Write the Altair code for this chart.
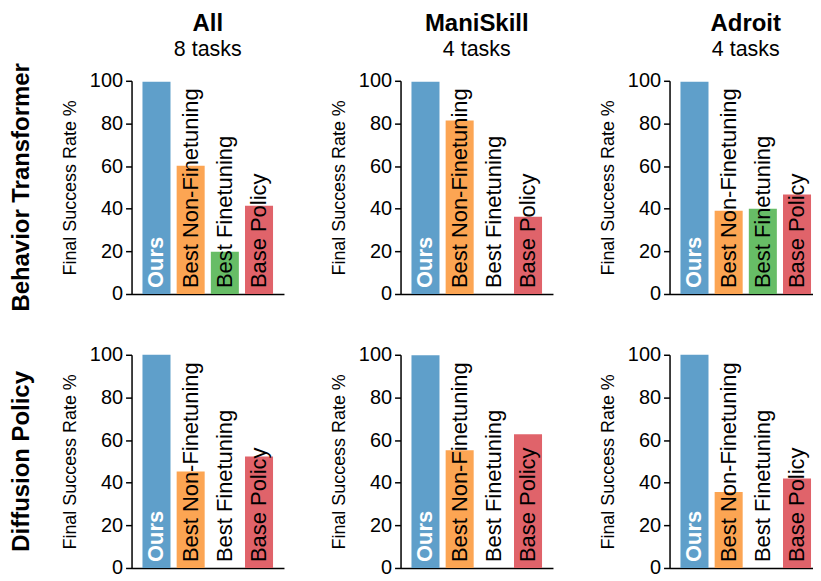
import altair as alt
import pandas as pd

methods = ["Ours", "Best Non-Finetuning", "Best Finetuning", "Base Policy"]
colors = ["#5f9fca", "#fca553", "#67bd66", "#e0636a"]
policies = ["Behavior Transformer", "Diffusion Policy"]
suites = ["All", "ManiSkill", "Adroit"]
suite_tasks = ["8 tasks", "4 tasks", "4 tasks"]

# values[policy][suite] -> [Ours, Best Non-Finetuning, Best Finetuning, Base Policy]
bt_all = [99.5, 60.1, 19.8, 41.4]
bt_maniskill = [99.5, 81.4, 0.0, 36.2]
bt_adroit = [99.5, 39.0, 40.0, 46.7]
dp_all = [100.0, 45.3, 0.0, 52.3]
dp_maniskill = [99.8, 55.2, 0.0, 62.7]
dp_adroit = [100.0, 35.6, 0.0, 42.0]

values = {
    "Behavior Transformer": [bt_all, bt_maniskill, bt_adroit],
    "Diffusion Policy": [dp_all, dp_maniskill, dp_adroit],
}

FONT = "Liberation Sans"
W, H = 153, 214


def label_layer(text, size, weight, x, y):
    return alt.Chart(pd.DataFrame({"label": [text]})).mark_text(
        fontSize=size, fontWeight=weight, font=FONT, color="black",
        baseline="alphabetic", align="center"
    ).encode(text="label:N", x=alt.value(x), y=alt.value(y))


def panel(policy, si, top, left):
    df = pd.DataFrame({"method": methods, "value": values[policy][si]})
    base = alt.Chart(df)
    x = alt.X("method:N", sort=methods,
              scale=alt.Scale(paddingInner=0.18, paddingOuter=0.32),
              axis=alt.Axis(labels=False, ticks=False, title=None))
    bars = base.mark_bar().encode(
        x=x,
        y=alt.Y("value:Q", scale=alt.Scale(domain=[0, 100]),
                axis=alt.Axis(values=[0, 20, 40, 60, 80, 100],
                              title="Final Success Rate %")),
        color=alt.Color("method:N", scale=alt.Scale(domain=methods, range=colors),
                        legend=None),
    )
    ours = base.transform_filter(alt.datum.method == "Ours").mark_text(
        angle=270, align="left", baseline="middle", dx=6, fontSize=22,
        font=FONT, fontWeight="bold", color="white"
    ).encode(x=x, y=alt.datum(0), text="method:N")
    others = base.transform_filter(alt.datum.method != "Ours").mark_text(
        angle=270, align="left", baseline="middle", dx=6, fontSize=22,
        font=FONT, color="black"
    ).encode(x=x, y=alt.datum(0), text="method:N")
    layers = [bars, ours, others]
    if left:
        rt = alt.Chart(pd.DataFrame({"label": [policy]})).mark_text(
            angle=270, fontSize=24, fontWeight="bold", font=FONT, color="black",
            baseline="middle", align="center"
        ).encode(text="label:N", x=alt.value(-110), y=alt.value(H / 2))
        layers.append(rt)
    if top:
        layers.append(label_layer(suites[si], 24, "bold", W / 2, -50))
        layers.append(label_layer(suite_tasks[si], 21.5, "normal", W / 2, -25))
    return alt.layer(*layers).properties(width=W, height=H)


rows = []
for pi, pol in enumerate(policies):
    rows.append(alt.hconcat(*[panel(pol, si, pi == 0, si == 0) for si in range(3)],
                            spacing=46))

chart = alt.vconcat(*rows, spacing=33).properties(
    padding={"left": 2, "top": 3, "right": -9, "bottom": 0}
).configure_axis(
    domainColor="black", tickColor="black", labelColor="black", titleColor="black",
    labelFont=FONT, titleFont=FONT, labelFontSize=20, titleFontSize=18,
    titleFontWeight="normal", grid=False, domainWidth=1.5, tickWidth=1.5,
    tickSize=6, labelPadding=3, titlePadding=10
).configure_view(stroke=None)

chart.save("out.html", embed_options={"renderer": "svg", "actions": False})
